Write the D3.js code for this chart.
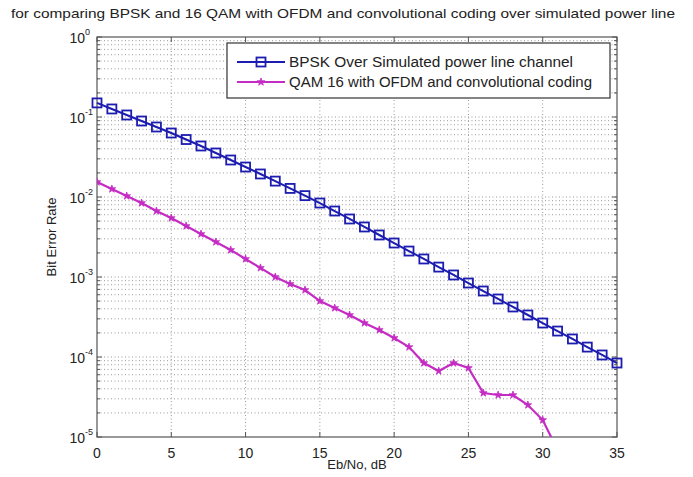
<!DOCTYPE html>
<html><head><meta charset="utf-8">
<script src="https://cdn.jsdelivr.net/npm/d3@7"></script>
<style>body{margin:0;background:#fff}svg{display:block}text{font-family:"Liberation Sans",Arial,sans-serif;fill:#222}</style>
</head><body><svg id="c" width="693" height="477"></svg>
<script>
const ebno = d3.range(0, 36);
const bpsk = [0.150,0.126,0.106,0.0891,0.0750,0.0631,0.0523,0.0434,0.0355,0.0290,0.0237,0.0194,0.0158,0.0128,0.0104,0.00841,0.00668,0.00531,0.00422,0.00335,0.00266,0.00211,0.00168,0.00133,0.00106,0.000841,0.000668,0.000531,0.000422,0.000335,0.000266,0.000211,0.000168,0.000133,0.000106,0.0000841];
const qamX = d3.range(0, 32);
const qam16 = [0.01540,0.01259,0.01029,0.00841,0.00668,0.00546,0.00434,0.00345,0.00274,0.00218,0.00168,0.00130,0.00100,0.000818,0.000688,0.000501,0.000410,0.000335,0.000266,0.000218,0.000173,0.000133,0.0000841,0.0000668,0.0000841,0.0000729,0.0000355,0.0000335,0.0000335,0.0000251,0.0000163,0.00000688];
const xTicks = [0,5,10,15,20,25,30,35];
const yExps = [0,-1,-2,-3,-4,-5];
const title = "for comparing BPSK and 16 QAM with OFDM and convolutional coding over simulated power line";
const legendLabels = ["BPSK Over Simulated power line channel","QAM 16 with OFDM and convolutional coding"];
const xLabel = "Eb/No, dB", yLabel = "Bit Error Rate";

const L=97,R=617,T=37,B=437;
const svg=d3.select("#c");
const x=d3.scaleLinear().domain([0,35]).range([L,R]);
const y=d3.scaleLog().domain([1e-5,1]).range([B,T]);
const blue="#1c1cb0", mag="#c42cc4";

// grid
const minor=[];
for(let e=-5;e<0;e++) for(let m=1;m<10;m++) minor.push(m*Math.pow(10,e));
const g=svg.append("g");
g.selectAll("line.hy").data(minor.filter(v=>v>1e-5)).join("line")
 .attr("x1",L).attr("x2",R).attr("y1",d=>y(d)).attr("y2",d=>y(d))
 .attr("stroke","#9a9a9a").attr("stroke-width",1).attr("stroke-dasharray","1,2.5");
g.selectAll("line.vx").data(xTicks.slice(1,-1)).join("line")
 .attr("x1",d=>x(d)).attr("x2",d=>x(d)).attr("y1",T).attr("y2",B)
 .attr("stroke","#9a9a9a").attr("stroke-width",1).attr("stroke-dasharray","1,2.5");

// axes box
svg.append("rect").attr("x",L).attr("y",T).attr("width",R-L).attr("height",B-T)
 .attr("fill","none").attr("stroke","#555").attr("stroke-width",1.2);
const tk=svg.append("g").attr("stroke","#555");
xTicks.forEach(t=>{tk.append("line").attr("x1",x(t)).attr("x2",x(t)).attr("y1",B).attr("y2",B-5);
 tk.append("line").attr("x1",x(t)).attr("x2",x(t)).attr("y1",T).attr("y2",T+5);});
minor.concat([1]).forEach(v=>{const major=Math.abs(Math.log10(v)-Math.round(Math.log10(v)))<1e-9;const l=major?5:3;
 tk.append("line").attr("x1",L).attr("x2",L+l).attr("y1",y(v)).attr("y2",y(v));
 tk.append("line").attr("x1",R).attr("x2",R-l).attr("y1",y(v)).attr("y2",y(v));});

// tick labels
svg.append("g").selectAll("text").data(xTicks).join("text")
 .attr("x",d=>x(d)).attr("y",B+21).attr("text-anchor","middle").attr("font-size",14).text(d=>d);
const yl=svg.append("g");
yExps.forEach(e=>{
 yl.append("text").attr("x",L-12).attr("y",y(Math.pow(10,e))+6).attr("text-anchor","end").attr("font-size",14).text("10");
 yl.append("text").attr("x",L-12).attr("y",y(Math.pow(10,e))-2).attr("font-size",9).text(e);
});

// title & labels
svg.append("text").attr("x",343).attr("y",18).attr("text-anchor","middle").attr("font-size",13)
 .attr("textLength",664).attr("lengthAdjust","spacingAndGlyphs").text(title);
svg.append("text").attr("x",357).attr("y",469).attr("text-anchor","middle").attr("font-size",13).text(xLabel);
svg.append("text").attr("transform","translate(56,237) rotate(-90)").attr("text-anchor","middle").attr("font-size",13).text(yLabel);

// clip
svg.append("clipPath").attr("id","cp").append("rect").attr("x",L).attr("y",T).attr("width",R-L).attr("height",B-T);
const plot=svg.append("g").attr("clip-path","url(#cp)");
const line=d3.line().x(d=>x(d[0])).y(d=>y(d[1]));
const bd=ebno.map((v,i)=>[v,bpsk[i]]);
const qd=qamX.map((v,i)=>[v,qam16[i]]);
plot.append("path").attr("d",line(qd)).attr("fill","none").attr("stroke",mag).attr("stroke-width",2.2);
const star=d3.symbol().type(d3.symbolStar).size(18);
plot.selectAll("path.qm").data(qd).join("path").attr("transform",d=>`translate(${x(d[0])},${y(d[1])})`)
 .attr("d",star()).attr("fill",mag).attr("stroke",mag).attr("stroke-width",0.8);
svg.append("path").attr("d",line(bd)).attr("fill","none").attr("stroke",blue).attr("stroke-width",2);
svg.selectAll("rect.bm").data(bd).join("rect").attr("x",d=>x(d[0])-4.5).attr("y",d=>y(d[1])-4.5)
 .attr("width",9).attr("height",9).attr("fill","none").attr("stroke",blue).attr("stroke-width",1.8);

// legend
const lg=svg.append("g");
lg.append("rect").attr("x",227).attr("y",43).attr("width",383).attr("height",55).attr("fill","#fff").attr("stroke","#333").attr("stroke-width",1.2);
const rows=[62,82];
lg.append("line").attr("x1",237).attr("x2",285).attr("y1",rows[0]).attr("y2",rows[0]).attr("stroke",blue).attr("stroke-width",2);
lg.append("rect").attr("x",256.5).attr("y",rows[0]-4.5).attr("width",9).attr("height",9).attr("fill","none").attr("stroke",blue).attr("stroke-width",1.8);
lg.append("line").attr("x1",237).attr("x2",285).attr("y1",rows[1]).attr("y2",rows[1]).attr("stroke",mag).attr("stroke-width",2.2);
lg.append("path").attr("transform",`translate(261,${rows[1]})`).attr("d",star()).attr("fill",mag).attr("stroke",mag).attr("stroke-width",0.8);
const lens=[284,303];
legendLabels.forEach((t,i)=>lg.append("text").attr("x",289).attr("y",rows[i]+5).attr("font-size",14)
 .attr("textLength",lens[i]).attr("lengthAdjust","spacingAndGlyphs").text(t));
</script></body></html>
